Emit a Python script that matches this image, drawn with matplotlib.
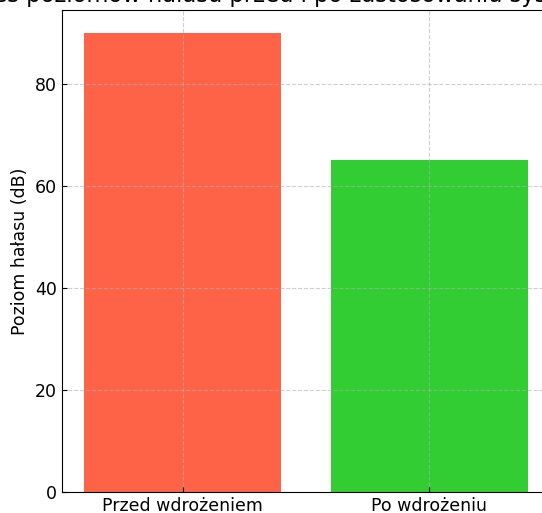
import matplotlib
matplotlib.use('Agg')
from matplotlib import pyplot as plt

# poziom hałasu przed i po wdrożeniu
etapy = ['Przed wdrożeniem', 'Po wdrożeniu']
poziom_db = [90, 65]
kolory = ['tomato', 'limegreen']


def main():
    fig = plt.figure(figsize=(5.42, 5.13), dpi=100)
    ax = fig.add_axes([0.1144, 0.0409, 0.9004, 0.9396])
    ax.bar(etapy, poziom_db, color=kolory)
    ax.set_title('Wykres poziomów hałasu przed i po zastosowaniu systemu ANC',
                 fontsize=16.3, x=0.484)
    ax.set_ylabel('Poziom hałasu (dB)', fontsize=12.5)
    ax.tick_params(labelsize=12.5, direction='in')
    ax.grid(True, linestyle='--', alpha=0.6)
    fig.savefig('out.png', dpi=100)


if __name__ == '__main__':
    main()
